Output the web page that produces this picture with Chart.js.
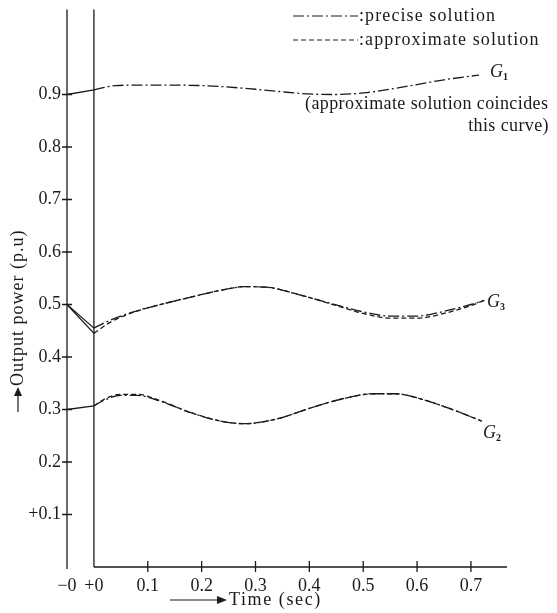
<!DOCTYPE html>
<html>
<head>
<meta charset="utf-8">
<script src="https://cdn.jsdelivr.net/npm/chart.js@4/dist/chart.umd.min.js"></script>
<style>
  html, body { margin: 0; padding: 0; background: #fff; }
  #caixa { position: relative; width: 557px; height: 613px; }
</style>
</head>
<body>
<div id="caixa"><canvas id="graficoPotencia"></canvas></div>
<script>
// pre-fault segment: -0 -> +0
const tempoFalta = [-0.05, 0];
const g1Antes = [0.900, 0.909];
const g2Antes = [0.300, 0.307];
const g3AntesPreciso = [0.500, 0.455];
const g3AntesAprox = [0.500, 0.445];

// after +0
const tempoG1 = [0, 0.04, 0.1, 0.2, 0.3, 0.35, 0.4, 0.45, 0.5, 0.55, 0.6, 0.65, 0.7, 0.715];
const g1Preciso = [0.909, 0.917, 0.918, 0.917, 0.910, 0.905, 0.901, 0.900, 0.903, 0.910, 0.919, 0.928, 0.935, 0.937];

const tempoG3 = [0, 0.03, 0.07, 0.12, 0.18, 0.24, 0.28, 0.32, 0.38, 0.44, 0.5, 0.55, 0.6, 0.65, 0.7, 0.725];
const g3Preciso = [0.455, 0.470, 0.485, 0.499, 0.514, 0.528, 0.534, 0.533, 0.519, 0.502, 0.486, 0.478, 0.478, 0.487, 0.500, 0.508];
const g3Aprox   = [0.445, 0.466, 0.484, 0.499, 0.514, 0.528, 0.534, 0.533, 0.519, 0.501, 0.483, 0.474, 0.474, 0.483, 0.498, 0.508];

const tempoG2 = [0, 0.02, 0.05, 0.08, 0.12, 0.18, 0.24, 0.28, 0.34, 0.4, 0.46, 0.52, 0.56, 0.6, 0.66, 0.72];
const g2Preciso = [0.307, 0.318, 0.327, 0.327, 0.317, 0.294, 0.277, 0.273, 0.282, 0.302, 0.320, 0.330, 0.330, 0.322, 0.302, 0.278];
const g2Aprox   = [0.307, 0.320, 0.329, 0.329, 0.318, 0.294, 0.277, 0.273, 0.282, 0.302, 0.320, 0.330, 0.330, 0.322, 0.302, 0.278];

const ticksX = [-0.05, 0, 0.1, 0.2, 0.3, 0.4, 0.5, 0.6, 0.7];
const rotulosX = ['\u22120', '+0', '0.1', '0.2', '0.3', '0.4', '0.5', '0.6', '0.7'];
const ticksY = [0.1, 0.2, 0.3, 0.4, 0.5, 0.6, 0.7, 0.8, 0.9];
const rotulosY = ['+0.1', '0.2', '0.3', '0.4', '0.5', '0.6', '0.7', '0.8', '0.9'];

const pontos = (xs, ys) => xs.map((x, i) => ({ x: x, y: ys[i] }));
const corTinta = '#1a1a1a';
const tracoPreciso = [11, 3, 2, 3];
const tracoAprox = [5, 3];
const fonteSerif = '"Liberation Serif", "DejaVu Serif", serif';

function reta(dados) {
    return { data: dados, borderColor: corTinta, borderWidth: 1.3, pointRadius: 0, tension: 0, fill: false };
}
function curva(dados, traco) {
    return { data: dados, borderColor: corTinta, borderWidth: 1.3, pointRadius: 0,
             cubicInterpolationMode: 'monotone', borderDash: traco, fill: false };
}

const desenhoExtra = {
    id: 'desenhoExtra',
    afterDraw(chart) {
        const ctx = chart.ctx;
        const sx = chart.scales.x, sy = chart.scales.y;
        const area = chart.chartArea;
        const x0 = sx.getPixelForValue(-0.05);
        const x1 = sx.getPixelForValue(0);
        const base = sy.getPixelForValue(0);
        const topo = sy.getPixelForValue(1.062);
        ctx.save();
        ctx.strokeStyle = corTinta;
        ctx.fillStyle = corTinta;
        ctx.lineWidth = 1.3;
        ctx.setLineDash([]);
        ctx.beginPath();
        ctx.moveTo(x0, topo); ctx.lineTo(x0, base + 2);
        ctx.moveTo(x1, topo); ctx.lineTo(x1, base);
        ctx.moveTo(x1, base); ctx.lineTo(area.right, base);
        ticksY.forEach(v => {
            const y = sy.getPixelForValue(v);
            ctx.moveTo(x0 - 5, y); ctx.lineTo(x0 + 5, y);
        });
        ticksX.slice(2).forEach(t => {
            const x = sx.getPixelForValue(t);
            ctx.moveTo(x, base - 6); ctx.lineTo(x, base + 5);
        });
        ctx.stroke();

        // legend
        ctx.lineWidth = 1.2;
        ctx.setLineDash(tracoPreciso);
        ctx.beginPath(); ctx.moveTo(293, 16); ctx.lineTo(358, 16); ctx.stroke();
        ctx.setLineDash(tracoAprox);
        ctx.beginPath(); ctx.moveTo(293, 40); ctx.lineTo(358, 40); ctx.stroke();
        ctx.setLineDash([]);
        ctx.font = '18px ' + fonteSerif;
        ctx.textBaseline = 'middle';
        ctx.textAlign = 'left';
        ctx.letterSpacing = '1.1px';
        ctx.fillText(':precise solution', 359, 16);
        ctx.fillText(':approximate solution', 359, 40);
        ctx.letterSpacing = '0.4px';
        ctx.fillText('(approximate solution coincides', 305, 104);
        ctx.textAlign = 'right';
        ctx.fillText('this curve)', 549, 126);
        ctx.letterSpacing = '0px';

        // curve labels
        const rotuloG = (txt, x, y) => {
            ctx.textAlign = 'left';
            ctx.font = 'italic 18px ' + fonteSerif;
            ctx.fillText('G', x, y);
            const w = ctx.measureText('G').width;
            ctx.font = 'bold 10px ' + fonteSerif;
            ctx.fillText(txt, x + w, y + 5);
        };
        rotuloG('1', 490, 72);
        rotuloG('3', 487, 302);
        rotuloG('2', 483, 433);

        // x title with arrow
        ctx.font = '18px ' + fonteSerif;
        ctx.letterSpacing = '1.6px';
        ctx.textAlign = 'left';
        ctx.fillText('Time (sec)', 229, 600);
        ctx.beginPath(); ctx.moveTo(170, 600); ctx.lineTo(224, 600); ctx.stroke();
        ctx.beginPath(); ctx.moveTo(227, 600); ctx.lineTo(217, 596); ctx.lineTo(217, 604); ctx.closePath(); ctx.fill();

        // y title with arrow
        ctx.translate(18, 0);
        ctx.rotate(-Math.PI / 2);
        ctx.letterSpacing = '1px';
        ctx.textAlign = 'left';
        ctx.fillText('Output power (p.u)', -386, 0);
        ctx.beginPath(); ctx.moveTo(-412, 0); ctx.lineTo(-390, 0); ctx.stroke();
        ctx.beginPath(); ctx.moveTo(-387, 0); ctx.lineTo(-396, -4); ctx.lineTo(-396, 4); ctx.closePath(); ctx.fill();
        ctx.restore();
    }
};

const ctxPotencia = document.getElementById('graficoPotencia').getContext('2d');

new Chart(ctxPotencia, {
    type: 'line',
    data: {
        datasets: [
            reta(pontos(tempoFalta, g1Antes)),
            reta(pontos(tempoFalta, g2Antes)),
            reta(pontos(tempoFalta, g3AntesPreciso)),
            reta(pontos(tempoFalta, g3AntesAprox)),
            curva(pontos(tempoG3, g3Aprox), tracoAprox),
            curva(pontos(tempoG2, g2Aprox), tracoAprox),
            curva(pontos(tempoG1, g1Preciso), tracoPreciso),
            curva(pontos(tempoG3, g3Preciso), tracoPreciso),
            curva(pontos(tempoG2, g2Preciso), tracoPreciso)
        ]
    },
    options: {
        responsive: true,
        maintainAspectRatio: false,
        animation: false,
        layout: { padding: { top: 4, right: 50, left: 0, bottom: 0 } },
        plugins: {
            legend: { display: false },
            tooltip: { enabled: false }
        },
        scales: {
            x: {
                type: 'linear',
                min: -0.05,
                max: 0.767,
                grid: { display: false, drawTicks: false },
                border: { display: false },
                afterBuildTicks: (scale) => { scale.ticks = ticksX.map(v => ({ value: v })); },
                afterFit: (scale) => { scale.height = 46; },
                ticks: {
                    padding: 8,
                    color: corTinta,
                    maxRotation: 0,
                    autoSkip: false,
                    font: { family: fonteSerif, size: 18 },
                    callback: (v, i) => rotulosX[i]
                }
            },
            y: {
                min: 0,
                max: 1.048,
                grid: { display: false, drawTicks: false },
                border: { display: false },
                afterBuildTicks: (scale) => { scale.ticks = ticksY.map(v => ({ value: v })); },
                afterFit: (scale) => { scale.width = 67; },
                ticks: {
                    padding: 6,
                    color: corTinta,
                    autoSkip: false,
                    font: { family: fonteSerif, size: 18 },
                    callback: (v, i) => rotulosY[i]
                }
            }
        }
    },
    plugins: [desenhoExtra]
});
</script>
</body>
</html>
